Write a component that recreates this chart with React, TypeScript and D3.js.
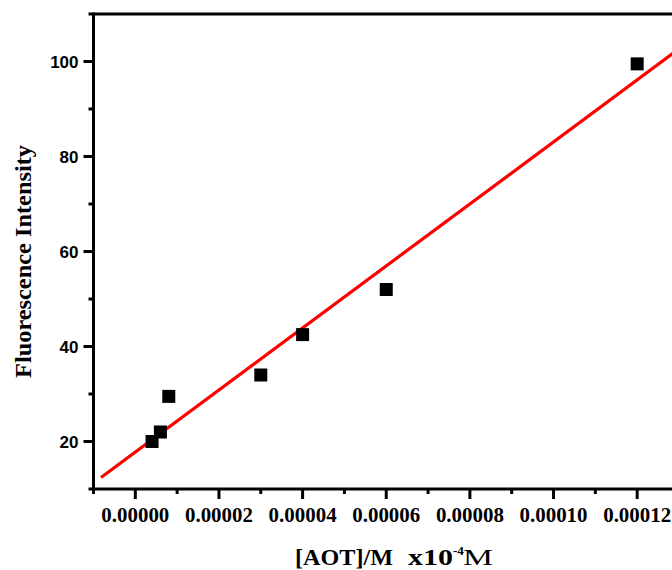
import React from "react";
import * as d3 from "d3";

const concentrations = [0.000004, 0.000006, 0.000008, 0.00003, 0.00004, 0.00006, 0.00012];
const intensities = [20, 22, 29.5, 34, 42.5, 52, 99.5];
const xTicks = [0, 0.00002, 0.00004, 0.00006, 0.00008, 0.0001, 0.00012];
const xMinorTicks = [-0.00001, 0.00001, 0.00003, 0.00005, 0.00007, 0.00009, 0.00011, 0.00013];
const yTicks = [20, 40, 60, 80, 100];
const yMinorTicks = [10, 30, 50, 70, 90, 110];
const fitRange = [-0.0000082, 0.00013];

const W = 672;
const H = 570;
const SERIF = "Liberation Serif, Times New Roman, serif";

export default function App() {
  const x = d3.scaleLinear().domain([-0.00001, 0.00013]).range([93.5, 679]);
  const y = d3.scaleLinear().domain([10, 110]).range([489, 14]);

  // least squares fit
  const n = concentrations.length;
  const mx = d3.mean(concentrations) as number;
  const my = d3.mean(intensities) as number;
  let sxx = 0, sxy = 0;
  for (let i = 0; i < n; i++) {
    sxx += (concentrations[i] - mx) ** 2;
    sxy += (concentrations[i] - mx) * (intensities[i] - my);
  }
  const slope = sxy / sxx;
  const intercept = my - slope * mx;
  const line = d3
    .line<number>()
    .x((d) => x(d))
    .y((d) => y(intercept + slope * d));

  const x0 = x(-0.00001);
  const x1 = x(0.00013);
  const yb = y(10);
  const yt = y(110);
  const sq = 13;

  return (
    <svg width={W} height={H} style={{ position: "absolute", left: 0, top: 0, background: "#fff" }}>
      <rect x={0} y={0} width={W} height={H} fill="#fff" />
      <path d={line(fitRange) as string} stroke="#ff0000" strokeWidth={3.2} fill="none" />
      {concentrations.map((c, i) => (
        <rect
          key={i}
          x={x(c) - sq / 2}
          y={y(intensities[i]) - sq / 2}
          width={sq}
          height={sq}
          fill="#000"
        />
      ))}
      <line x1={x0} x2={x1} y1={yt} y2={yt} stroke="#000" strokeWidth={3} />
      <line x1={x0} x2={x1} y1={yb} y2={yb} stroke="#000" strokeWidth={3} />
      <line x1={x0} x2={x0} y1={yt - 1.5} y2={yb + 1.5} stroke="#000" strokeWidth={3} />
      <line x1={x1} x2={x1} y1={yt - 1.5} y2={yb + 1.5} stroke="#000" strokeWidth={3} />
      {xTicks.map((t) => (
        <g key={"xt" + t}>
          <line x1={x(t)} x2={x(t)} y1={yb} y2={yb + 10} stroke="#000" strokeWidth={3} />
          <text
            x={x(t) - 34}
            y={522}
            textLength={68}
            lengthAdjust="spacingAndGlyphs"
            fontFamily={SERIF}
            fontWeight="bold"
            fontSize={20}
            fill="#000"
          >
            {t.toFixed(5)}
          </text>
        </g>
      ))}
      {xMinorTicks.map((t) => (
        <line key={"xm" + t} x1={x(t)} x2={x(t)} y1={yb} y2={yb + 5} stroke="#000" strokeWidth={3} />
      ))}
      {yTicks.map((t) => (
        <g key={"yt" + t}>
          <line x1={x0} x2={x0 - 10} y1={y(t)} y2={y(t)} stroke="#000" strokeWidth={3} />
          <text
            x={x0 - 15}
            y={y(t)}
            dy="0.36em"
            textAnchor="end"
            fontFamily="Liberation Sans, Arial, sans-serif"
            fontWeight="bold"
            fontSize={17}
            fill="#000"
          >
            {t}
          </text>
        </g>
      ))}
      {yMinorTicks.map((t) => (
        <line key={"ym" + t} x1={x0} x2={x0 - 5} y1={y(t)} y2={y(t)} stroke="#000" strokeWidth={3} />
      ))}
      <text
        transform={`translate(31,378) rotate(-90)`}
        textLength={233}
        lengthAdjust="spacingAndGlyphs"
        fontFamily={SERIF}
        fontWeight="bold"
        fontSize={23}
        fill="#000"
      >
        Fluorescence Intensity
      </text>
      <g fontFamily={SERIF} fontSize={23} fill="#000">
        <text x={295} y={565} fontWeight="bold" textLength={98} lengthAdjust="spacingAndGlyphs">
          [AOT]/M
        </text>
        <text x={408} y={565} fontWeight="bold" textLength={45} lengthAdjust="spacingAndGlyphs">
          x10
        </text>
        <text x={453} y={555} fontWeight="bold" fontSize={13}>
          -4
        </text>
        <text x={463} y={565} textLength={30} lengthAdjust="spacingAndGlyphs">
          M
        </text>
      </g>
    </svg>
  );
}
